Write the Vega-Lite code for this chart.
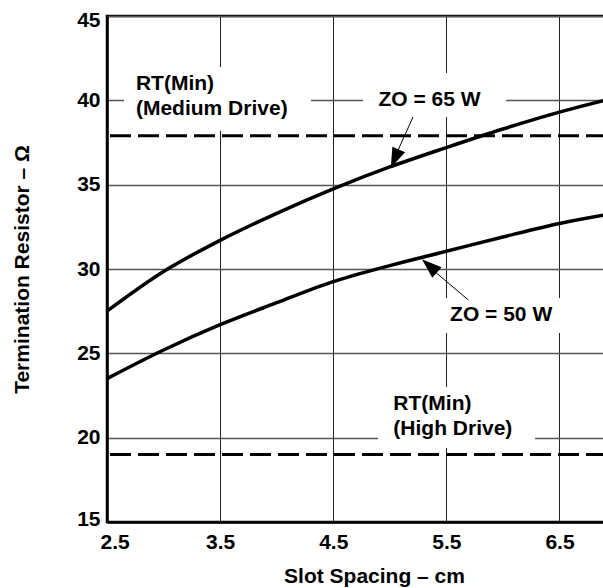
{
  "$schema": "https://vega.github.io/schema/vega-lite/v6.json",
  "width": 500,
  "height": 506,
  "autosize": {"type": "none"},
  "padding": {"left": 107, "top": 16, "right": 0, "bottom": 66},
  "background": "white",
  "config": {
    "view": {"stroke": "black", "strokeWidth": 2.5},
    "font": "Liberation Sans",
    "axis": {
      "ticks": false,
      "domainColor": "black",
      "domainWidth": 2.5,
      "labelFontSize": 21,
      "labelFontWeight": "bold",
      "labelColor": "black",
      "labelFlushOffset": 7,
      "titleFontSize": 21,
      "titleFontWeight": "bold",
      "titleColor": "black",
      "grid": true
    }
  },
  "datasets": {
    "curves": [
      {"series": "ZO = 65 W", "spacing": 2.5, "ohms": 27.5},
      {"series": "ZO = 65 W", "spacing": 3.0, "ohms": 29.85},
      {"series": "ZO = 65 W", "spacing": 3.5, "ohms": 31.7},
      {"series": "ZO = 65 W", "spacing": 4.0, "ohms": 33.3},
      {"series": "ZO = 65 W", "spacing": 4.5, "ohms": 34.75},
      {"series": "ZO = 65 W", "spacing": 5.0, "ohms": 36.05},
      {"series": "ZO = 65 W", "spacing": 5.5, "ohms": 37.2},
      {"series": "ZO = 65 W", "spacing": 6.0, "ohms": 38.3},
      {"series": "ZO = 65 W", "spacing": 6.5, "ohms": 39.3},
      {"series": "ZO = 65 W", "spacing": 6.9, "ohms": 40.0},
      {"series": "ZO = 50 W", "spacing": 2.5, "ohms": 23.5},
      {"series": "ZO = 50 W", "spacing": 3.0, "ohms": 25.2},
      {"series": "ZO = 50 W", "spacing": 3.5, "ohms": 26.7},
      {"series": "ZO = 50 W", "spacing": 4.0, "ohms": 28.0},
      {"series": "ZO = 50 W", "spacing": 4.5, "ohms": 29.25},
      {"series": "ZO = 50 W", "spacing": 5.0, "ohms": 30.2},
      {"series": "ZO = 50 W", "spacing": 5.5, "ohms": 31.05},
      {"series": "ZO = 50 W", "spacing": 6.0, "ohms": 31.9},
      {"series": "ZO = 50 W", "spacing": 6.5, "ohms": 32.7},
      {"series": "ZO = 50 W", "spacing": 6.9, "ohms": 33.2}
    ],
    "limits": [
      {"limit": "RT(Min) Medium Drive", "ohms": 37.9},
      {"limit": "RT(Min) High Drive", "ohms": 19.0}
    ],
    "boxes": [
      {"box": "medium", "xa": 2.65, "xb": 4.304, "ya": 41.98, "yb": 38.2},
      {"box": "zo65", "xa": 4.763, "xb": 6.028, "ya": 41.62, "yb": 39.01},
      {"box": "zo50", "xa": 5.356, "xb": 6.594, "ya": 28.28, "yb": 26.21},
      {"box": "high", "xa": 4.896, "xb": 6.284, "ya": 23.0, "yb": 19.39}
    ],
    "notes": [
      {"text": "RT(Min)", "spacing": 2.756, "ohms": 40.98},
      {"text": "(Medium Drive)", "spacing": 2.756, "ohms": 39.47},
      {"text": "ZO = 65 W", "spacing": 4.899, "ohms": 40.02},
      {"text": "ZO = 50 W", "spacing": 5.533, "ohms": 27.27},
      {"text": "RT(Min)", "spacing": 5.031, "ohms": 21.97},
      {"text": "(High Drive)", "spacing": 5.031, "ohms": 20.5}
    ],
    "leaders": [
      {"series": "ZO = 65 W", "xa": 5.205, "ya": 39.01, "xb": 5.05, "yb": 36.7},
      {"series": "ZO = 50 W", "xa": 5.695, "ya": 28.16, "xb": 5.37, "yb": 30.0}
    ],
    "heads": [
      {"series": "ZO = 65 W", "spacing": 5.044, "ohms": 36.54, "angle": 203.5},
      {"series": "ZO = 50 W", "spacing": 5.35, "ohms": 30.18, "angle": 311.3}
    ]
  },
  "layer": [
    {
      "data": {"name": "boxes"},
      "mark": {"type": "rect", "fill": "white", "stroke": null},
      "encoding": {
        "x": {
          "field": "xa", "type": "quantitative",
          "scale": {"domain": [2.5, 6.92], "nice": false, "zero": false},
          "title": "Slot Spacing – cm",
          "axis": {
            "values": [2.5, 3.5, 4.5, 5.5, 6.5],
            "format": ".1f",
            "gridColor": "#222222",
            "gridWidth": 1,
            "labelPadding": 9,
            "titlePadding": 13,
            "titleX": 267
          }
        },
        "x2": {"field": "xb"},
        "y": {
          "field": "ya", "type": "quantitative",
          "scale": {"domain": [15, 45], "nice": false, "zero": false},
          "title": "Termination Resistor – Ω",
          "axis": {
            "values": [15, 20, 25, 30, 35, 40, 45],
            "gridColor": "#555555",
            "gridWidth": 1.3,
            "labelPadding": 7,
            "labelFlush": true,
            "titlePadding": 44
          }
        },
        "y2": {"field": "yb"}
      }
    },
    {
      "data": {"name": "limits"},
      "mark": {"type": "rule", "color": "black", "strokeWidth": 3, "strokeDash": [21, 7]},
      "encoding": {
        "y": {"field": "ohms", "type": "quantitative", "title": "Termination Resistor – Ω"}
      }
    },
    {
      "data": {"name": "curves"},
      "mark": {"type": "line", "color": "black", "strokeWidth": 3.5, "interpolate": "monotone"},
      "encoding": {
        "x": {"field": "spacing", "type": "quantitative", "title": "Slot Spacing – cm"},
        "y": {"field": "ohms", "type": "quantitative", "title": "Termination Resistor – Ω"},
        "detail": {"field": "series"}
      }
    },
    {
      "data": {"name": "leaders"},
      "mark": {"type": "rule", "color": "black", "strokeWidth": 1},
      "encoding": {
        "x": {"field": "xa", "type": "quantitative", "title": "Slot Spacing – cm"},
        "y": {"field": "ya", "type": "quantitative", "title": "Termination Resistor – Ω"},
        "x2": {"field": "xb"},
        "y2": {"field": "yb"}
      }
    },
    {
      "data": {"name": "heads"},
      "mark": {"type": "point", "shape": "M0,-1L-0.7,1L0.7,1Z", "filled": true, "color": "black", "opacity": 1, "size": 400, "strokeWidth": 0},
      "encoding": {
        "x": {"field": "spacing", "type": "quantitative", "title": "Slot Spacing – cm"},
        "y": {"field": "ohms", "type": "quantitative", "title": "Termination Resistor – Ω"},
        "angle": {"field": "angle", "type": "quantitative", "scale": null}
      }
    },
    {
      "data": {"name": "notes"},
      "mark": {"type": "text", "align": "left", "baseline": "middle", "fontSize": 21, "fontWeight": "bold", "color": "black", "font": "Liberation Sans"},
      "encoding": {
        "x": {"field": "spacing", "type": "quantitative", "title": "Slot Spacing – cm"},
        "y": {"field": "ohms", "type": "quantitative", "title": "Termination Resistor – Ω"},
        "text": {"field": "text"}
      }
    }
  ]
}
